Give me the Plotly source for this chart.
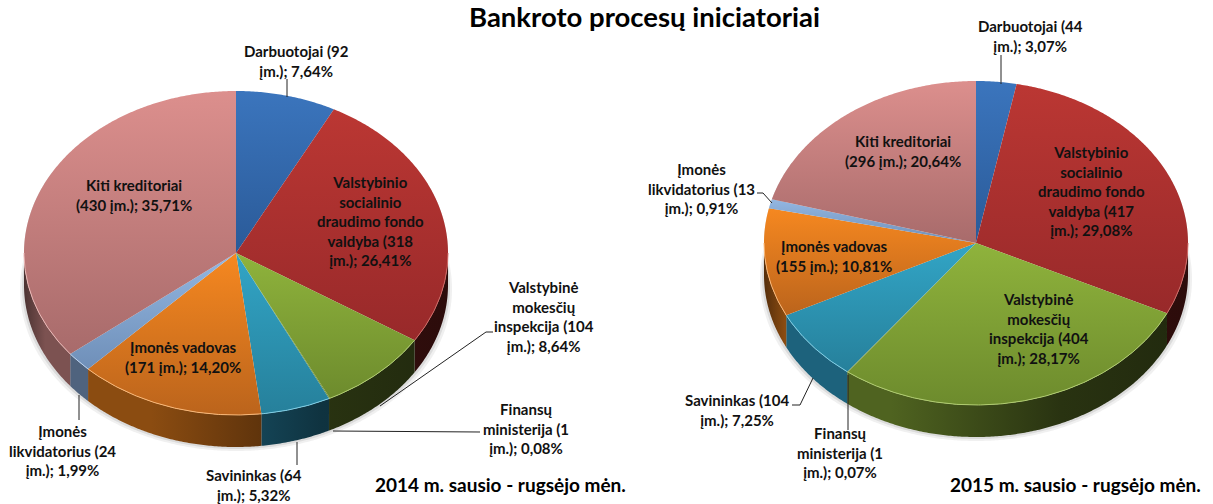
import numpy as np
import plotly.graph_objects as go

TITLE = "Bankroto procesų iniciatoriai"
CATEGORIES = ["Darbuotojai", "Valstybinio socialinio draudimo fondo valdyba", "Valstybinė mokesčių inspekcija",
              "Finansų ministerija", "Savininkas", "Įmonės vadovas", "Įmonės likvidatorius", "Kiti kreditoriai"]
VALUES_2014 = [92, 318, 104, 1, 64, 171, 24, 430]
VALUES_2015 = [44, 417, 404, 1, 104, 155, 13, 296]
LABELS_2014 = ["Darbuotojai (92<br>įm.); 7,64%",
               "Valstybinio<br>socialinio<br>draudimo fondo<br>valdyba (318<br>įm.); 26,41%",
               "Valstybinė<br>mokesčių<br>inspekcija (104<br>įm.); 8,64%",
               "Finansų<br>ministerija (1<br>įm.); 0,08%",
               "Savininkas (64<br>įm.); 5,32%",
               "Įmonės vadovas<br>(171 įm.); 14,20%",
               "Įmonės<br>likvidatorius (24<br>įm.); 1,99%",
               "Kiti kreditoriai<br>(430 įm.); 35,71%"]
LABELS_2015 = ["Darbuotojai (44<br>įm.); 3,07%",
               "Valstybinio<br>socialinio<br>draudimo fondo<br>valdyba (417<br>įm.); 29,08%",
               "Valstybinė<br>mokesčių<br>inspekcija (404<br>įm.); 28,17%",
               "Finansų<br>ministerija (1<br>įm.); 0,07%",
               "Savininkas (104<br>įm.); 7,25%",
               "Įmonės vadovas<br>(155 įm.); 10,81%",
               "Įmonės<br>likvidatorius (13<br>įm.); 0,91%",
               "Kiti kreditoriai<br>(296 įm.); 20,64%"]
PERIOD_2014 = "2014 m. sausio - rugsėjo mėn."
PERIOD_2015 = "2015 m. sausio - rugsėjo mėn."

# styling / layout
TOP_LIGHT = ["#3b75bd", "#bb3733", "#8fb33c", "#8fb33c", "#32a5c6", "#f68820", "#93b7e2", "#dc8f8d"]
TOP_DARK = ["#2a5a98", "#98292a", "#6d8b2d", "#6d8b2d", "#26809b", "#bb641c", "#6f8fb8", "#a86b6b"]
SIDE = ["#2a5a98", "#a82e2a", "#7f9f34", "#7f9f34", "#2f9ec8", "#e07a1c", "#7fa0cc", "#c88583"]
RIM = ["#6f9ad0", "#cf6a66", "#b0cc70", "#b0cc70", "#80cfe6", "#fab878", "#bcd2ee", "#eab8b6"]
POS_2014 = [(296, 61), (370, 221), (544, 316), (526, 428), (254, 485), (183, 357), (62, 450), (134, 195)]
POS_2015 = [(1030, 36), (1091, 191), (1039, 328), (840, 452), (737, 410), (834, 256), (701, 188), (903, 151)]
LEAD_2014 = [[(287, 79), (287, 97)], [(493, 332), (486, 332), (380, 406)], [(480, 432), (333, 431)],
             [(297, 442), (297, 465)], [(79, 395), (79, 420)]]
LEAD_2015 = [[(1001, 55), (1001, 84)], [(792, 405), (800, 405), (813, 378)], [(848, 375), (848, 430)],
             [(757, 193), (763, 193), (772, 203)]]
RX, RY, DEPTH = 212, 162, 32
FONT = "Lato"


def shade(hexcol, f):
    r, g, b = (int(hexcol[i:i + 2], 16) for i in (1, 3, 5))
    return f"rgb({r * f:.0f},{g * f:.0f},{b * f:.0f})"


def arc(cx, cy, a0, a1, rx=RX, ry=RY):
    t = np.radians(np.linspace(a0, a1, max(int(abs(a1 - a0)) * 2, 2)))
    return cx + rx * np.sin(t), cy - ry * np.cos(t)


def add_pie(fig, values, cx, cy):
    total = sum(values)
    cum = np.concatenate([[0], np.cumsum(values)]) / total * 360
    # soft shadow
    for grow, alpha in ((4, 0.10), (2, 0.16)):
        xs, ys = arc(cx, cy + DEPTH + grow, 60, 300, RX + grow, RY)
        xs2, ys2 = arc(cx, cy, 300, 60)
        fig.add_trace(go.Scatter(x=np.r_[xs, xs2], y=np.r_[ys, ys2], fill="toself", mode="none",
                                 fillcolor=f"rgba(110,110,110,{alpha})", hoverinfo="skip", showlegend=False))
    # sides
    for i in range(len(values)):
        a0, a1 = max(cum[i], 90), min(cum[i + 1], 270)
        if a1 <= a0:
            continue
        x1, y1 = arc(cx, cy, a0, a1)
        x2, y2 = arc(cx, cy + DEPTH, a1, a0)
        scale = [[0, shade(SIDE[i], 0.38)], [0.05, shade(SIDE[i], 0.62)], [0.3, shade(SIDE[i], 0.62)],
                 [0.7, shade(SIDE[i], 0.32)], [1, shade(SIDE[i], 0.26)]]
        fig.add_trace(go.Scatter(x=np.r_[x1, x2], y=np.r_[y1, y2], fill="toself", mode="none",
                                 fillgradient=dict(type="horizontal", colorscale=scale, start=cx - RX, stop=cx + RX),
                                 hoverinfo="skip", showlegend=False))
    # tops
    for i in range(len(values)):
        x1, y1 = arc(cx, cy, cum[i], cum[i + 1])
        px, py = np.r_[cx, x1, cx], np.r_[cy, y1, cy]
        scale = [[0, TOP_LIGHT[i]], [1, TOP_DARK[i]]]
        fig.add_trace(go.Scatter(x=px, y=py, fill="toself", mode="none",
                                 fillgradient=dict(type="vertical", colorscale=scale,
                                                   start=float(py.min()), stop=float(py.max())),
                                 name=CATEGORIES[i], hoverinfo="skip", showlegend=False))
    # bevel highlight along the front rim
    for i in range(len(values)):
        a0, a1 = max(cum[i], 90), min(cum[i + 1], 270)
        if a1 <= a0:
            continue
        x1, y1 = arc(cx, cy, a0, a1)
        fig.add_trace(go.Scatter(x=x1, y=y1, mode="lines", line=dict(color=RIM[i], width=1),
                                 hoverinfo="skip", showlegend=False))


fig = go.Figure()
add_pie(fig, VALUES_2014, 236, 253)
add_pie(fig, VALUES_2015, 976, 243)

ann = []
for labels, pos in ((LABELS_2014, POS_2014), (LABELS_2015, POS_2015)):
    for text, (x, y) in zip(labels, pos):
        ann.append(dict(x=x, y=y, text="<b>" + text + "</b>", showarrow=False, xref="x", yref="y", align="center",
                        font=dict(family=FONT, size=15, color="#111111")))
ann.append(dict(x=644, y=16, text=f"<b>{TITLE}</b>", showarrow=False, xref="x", yref="y", borderpad=0,
                font=dict(family=FONT, size=27.5, color="#000000")))
ann.append(dict(x=500, y=484, text=f"<b>{PERIOD_2014}</b>", showarrow=False, xref="x", yref="y",
                font=dict(family=FONT, size=19, color="#000000")))
ann.append(dict(x=1075, y=484, text=f"<b>{PERIOD_2015}</b>", showarrow=False, xref="x", yref="y",
                font=dict(family=FONT, size=19, color="#000000")))

shapes = []
for path in LEAD_2014 + LEAD_2015:
    for (x0, y0), (x1, y1) in zip(path[:-1], path[1:]):
        shapes.append(dict(type="line", x0=x0, y0=y0, x1=x1, y1=y1, xref="x", yref="y",
                           line=dict(color="#222222", width=1)))

fig.update_layout(width=1213, height=504, margin=dict(l=0, r=0, t=0, b=0), paper_bgcolor="white",
                  plot_bgcolor="white", showlegend=False, annotations=ann, shapes=shapes,
                  xaxis=dict(range=[0, 1213], visible=False, fixedrange=True),
                  yaxis=dict(range=[504, 0], visible=False, fixedrange=True))
fig.write_html("out.html", config=dict(displayModeBar=False),
               post_script="document.body.style.margin='0';document.documentElement.style.overflow='hidden';")
